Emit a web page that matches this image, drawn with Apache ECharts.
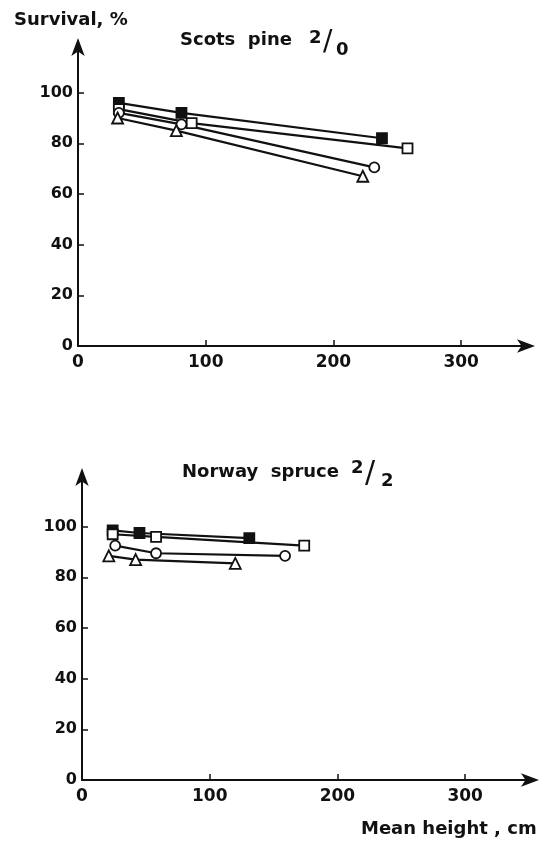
<!DOCTYPE html>
<html><head><meta charset="utf-8">
<script src="https://cdn.jsdelivr.net/npm/echarts@6/dist/echarts.min.js"></script>
<style>html,body{margin:0;padding:0;background:#fff}#c{width:548px;height:845px}</style>
</head><body><div id="c"></div>
<script>
// tick labels
const xTicks = [0, 100, 200, 300];
const yTicks = [0, 20, 40, 60, 80, 100];

// Scots pine 2/0 (mean height cm, survival %)
const pineFilledX = [32, 81, 238];   const pineFilledY = [96, 92, 82];
const pineOpenSqX = [32, 89, 258];   const pineOpenSqY = [93.5, 88, 78];
const pineCircleX = [32, 81, 232];   const pineCircleY = [92, 87.5, 70.5];
const pineTriX    = [31, 77, 223];   const pineTriY    = [90, 85, 67];

// Norway spruce 2/2
const spruceFilledX = [24, 45, 131];  const spruceFilledY = [98.5, 97.5, 95.5];
const spruceOpenSqX = [24, 58, 174];  const spruceOpenSqY = [97, 96, 92.5];
const spruceCircleX = [26, 58, 159];  const spruceCircleY = [92.5, 89.5, 88.5];
const spruceTriX    = [21, 42, 120];  const spruceTriY    = [88.5, 87, 85.5];

const zip = (xs, ys) => xs.map((x, i) => [x, ys[i]]);
const FONT = 'DejaVu Sans';

function axes(gi, yArrowOff) {
  const x = {
    type: 'value', gridIndex: gi, min: 0, max: 350, interval: 50,
    axisLine: { show: true, onZero: false, lineStyle: { color: '#111', width: 2 }, symbol: ['none', 'arrow'], symbolSize: [10, 18], symbolOffset: [0, 10] },
    axisTick: { show: true, inside: true, length: 6, lineStyle: { color: '#111', width: 1.5 }, customValues: xTicks },
    axisLabel: { customValues: xTicks, color: '#111', fontFamily: FONT, fontWeight: 'bold', fontSize: 17, margin: 8 },
    splitLine: { show: false }
  };
  const y = {
    type: 'value', gridIndex: gi, min: 0, max: 120, interval: 20,
    axisLine: { show: true, onZero: false, lineStyle: { color: '#111', width: 2 }, symbol: ['none', 'arrow'], symbolSize: [10, 18], symbolOffset: [0, yArrowOff] },
    axisTick: { show: true, inside: true, length: 6, lineStyle: { color: '#111', width: 1.5 }, customValues: yTicks },
    axisLabel: { customValues: yTicks, color: '#111', fontFamily: FONT, fontWeight: 'bold', fontSize: 16, margin: 5 },
    splitLine: { show: false }
  };
  return [x, y];
}

function mk(gi, data, symbol, filled) {
  return {
    type: 'line', xAxisIndex: gi, yAxisIndex: gi, data: data,
    symbol: symbol, symbolSize: symbol === 'triangle' ? 11 : 10, showAllSymbol: true,
    lineStyle: { color: '#111', width: 2.2 },
    itemStyle: { color: filled ? '#111' : '#fff', borderColor: '#111', borderWidth: 1.8 },
    z: filled ? 3 : 4, animation: false
  };
}

const [x0, y0] = axes(0, 4);
const [x1, y1] = axes(1, 8);

const T = (x, y, text, font) => ({ type: 'text', x: x, y: y, style: { text: text, font: font, fill: '#111', verticalAlign: 'middle', align: 'left' } });

const chart = echarts.init(document.getElementById('c'), null, { renderer: 'canvas' });
chart.setOption({
  backgroundColor: '#fff',
  animation: false,
  grid: [
    { left: 78, top: 42, width: 447, height: 304 },
    { left: 82, top: 476, width: 447, height: 304 }
  ],
  xAxis: [x0, x1],
  yAxis: [y0, y1],
  series: [
    mk(0, zip(pineFilledX, pineFilledY), 'rect', true),
    mk(0, zip(pineOpenSqX, pineOpenSqY), 'rect', false),
    mk(0, zip(pineCircleX, pineCircleY), 'circle', false),
    mk(0, zip(pineTriX, pineTriY), 'triangle', false),
    mk(1, zip(spruceFilledX, spruceFilledY), 'rect', true),
    mk(1, zip(spruceOpenSqX, spruceOpenSqY), 'rect', false),
    mk(1, zip(spruceCircleX, spruceCircleY), 'circle', false),
    mk(1, zip(spruceTriX, spruceTriY), 'triangle', false)
  ],
  graphic: [
    T(14, 20, 'Survival, %', 'bold 18px "DejaVu Sans"'),
    T(180, 40, 'Scots  pine', 'bold 18px "DejaVu Sans"'),
    T(309, 38, '2', 'bold 18px "DejaVu Sans"'),
    T(323, 43, '/', '28px "DejaVu Sans"'),
    T(336, 50, '0', 'bold 18px "DejaVu Sans"'),
    T(182, 472, 'Norway  spruce', 'bold 18px "DejaVu Sans"'),
    T(351, 468, '2', 'bold 18px "DejaVu Sans"'),
    T(365, 474, '/', '30px "DejaVu Sans"'),
    T(381, 481, '2', 'bold 18px "DejaVu Sans"'),
    T(361, 829, 'Mean height , cm', 'bold 18px "DejaVu Sans"')
  ]
});
</script>
</body></html>
